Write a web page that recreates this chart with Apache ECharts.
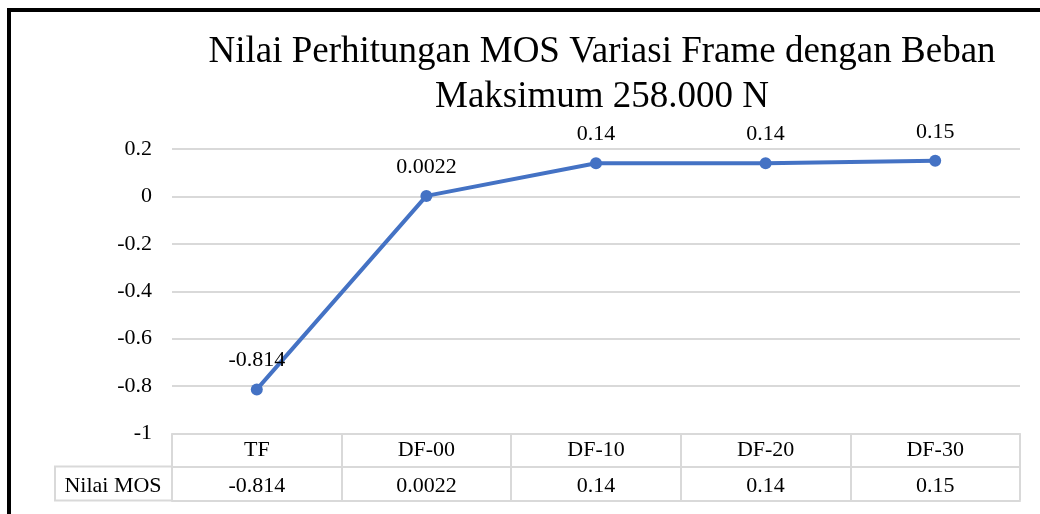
<!DOCTYPE html>
<html>
<head>
<meta charset="utf-8">
<script src="https://cdn.jsdelivr.net/npm/echarts@6/dist/echarts.min.js"></script>
<style>
  html, body { margin: 0; padding: 0; background: #fff; }
  #chart { width: 1040px; height: 514px; }
</style>
</head>
<body>
<div id="chart"></div>
<script>
  // data
  var categories = ['TF', 'DF-00', 'DF-10', 'DF-20', 'DF-30']
  var mosValues = [-0.814, 0.0022, 0.14, 0.14, 0.15]
  var seriesName = 'Nilai MOS'
  var yTicks = { min: -1, max: 0.2, step: 0.2 }

  var serif = '"Liberation Serif", "Times New Roman", serif'
  var gridCol = '#d9d9d9'
  var fs = 22

  var chart = echarts.init(document.getElementById('chart'))

  var option = {
    animation: false,
    title: {
      text: 'Nilai Perhitungan MOS Variasi Frame dengan Beban\nMaksimum 258.000 N',
      left: 597,
      textAlign: 'center',
      top: 25,
      textStyle: {
        fontFamily: serif,
        fontSize: 37,
        fontWeight: 'normal',
        color: '#000',
        lineHeight: 45
      }
    },
    grid: {
      left: 172,
      right: 20,
      top: 149,
      bottom: 80.5
    },
    yAxis: {
      type: 'value',
      min: yTicks.min,
      max: yTicks.max,
      interval: yTicks.step,
      axisLine: { show: false },
      axisTick: { show: false },
      splitLine: { lineStyle: { color: gridCol, width: 2 } },
      axisLabel: {
        margin: 20,
        fontFamily: serif,
        fontSize: fs,
        color: '#000',
        formatter: function (v) {
          return String(Math.round(v * 10) / 10)
        }
      }
    },
    xAxis: [{
      // header row of the data table
      type: 'category',
      data: categories,
      position: 'bottom',
      axisLine: { show: true, onZero: false, lineStyle: { color: gridCol, width: 2 } },
      axisTick: { show: true, interval: 0, length: 67, lineStyle: { color: gridCol, width: 2 } },
      axisLabel: {
        margin: 6,
        fontFamily: serif,
        fontSize: fs,
        color: '#000'
      }
    }, {
      // value row of the data table
      type: 'category',
      data: mosValues.map(String),
      position: 'bottom',
      offset: 33,
      axisLine: { show: true, onZero: false, lineStyle: { color: gridCol, width: 2 } },
      axisTick: { show: false },
      axisLabel: {
        margin: 9,
        fontFamily: serif,
        fontSize: fs,
        color: '#000'
      }
    }, {
      type: 'category',
      data: categories,
      position: 'bottom',
      offset: 67,
      axisLine: { show: true, onZero: false, lineStyle: { color: gridCol, width: 2 } },
      axisTick: { show: false },
      axisLabel: { show: false }
    }],
    series: [{
      name: seriesName,
      type: 'line',
      data: mosValues,
      xAxisIndex: 0,
      symbol: 'circle',
      symbolSize: 12,
      lineStyle: { color: '#4472C4', width: 4 },
      itemStyle: { color: '#4472C4' },
      label: {
        show: true,
        position: 'top',
        distance: 12,
        fontFamily: serif,
        fontSize: fs,
        color: '#000',
        formatter: function (p) { return String(p.value) }
      }
    }],
    graphic: [{
      type: 'rect',
      shape: { x: 9, y: 10, width: 1200, height: 700 },
      style: { fill: null, stroke: '#000', lineWidth: 4 },
      silent: true
    }, {
      // left header cell of the data table
      type: 'polyline',
      shape: { points: [[172, 466.5], [55, 466.5], [55, 500.5], [172, 500.5]] },
      style: { fill: null, stroke: gridCol, lineWidth: 2 },
      silent: true
    }, {
      type: 'text',
      x: 113,
      y: 486,
      style: {
        text: seriesName,
        fontFamily: serif,
        fontSize: fs,
        fill: '#000',
        align: 'center',
        verticalAlign: 'middle'
      },
      silent: true
    }]
  }

  chart.setOption(option)
</script>
</body>
</html>
